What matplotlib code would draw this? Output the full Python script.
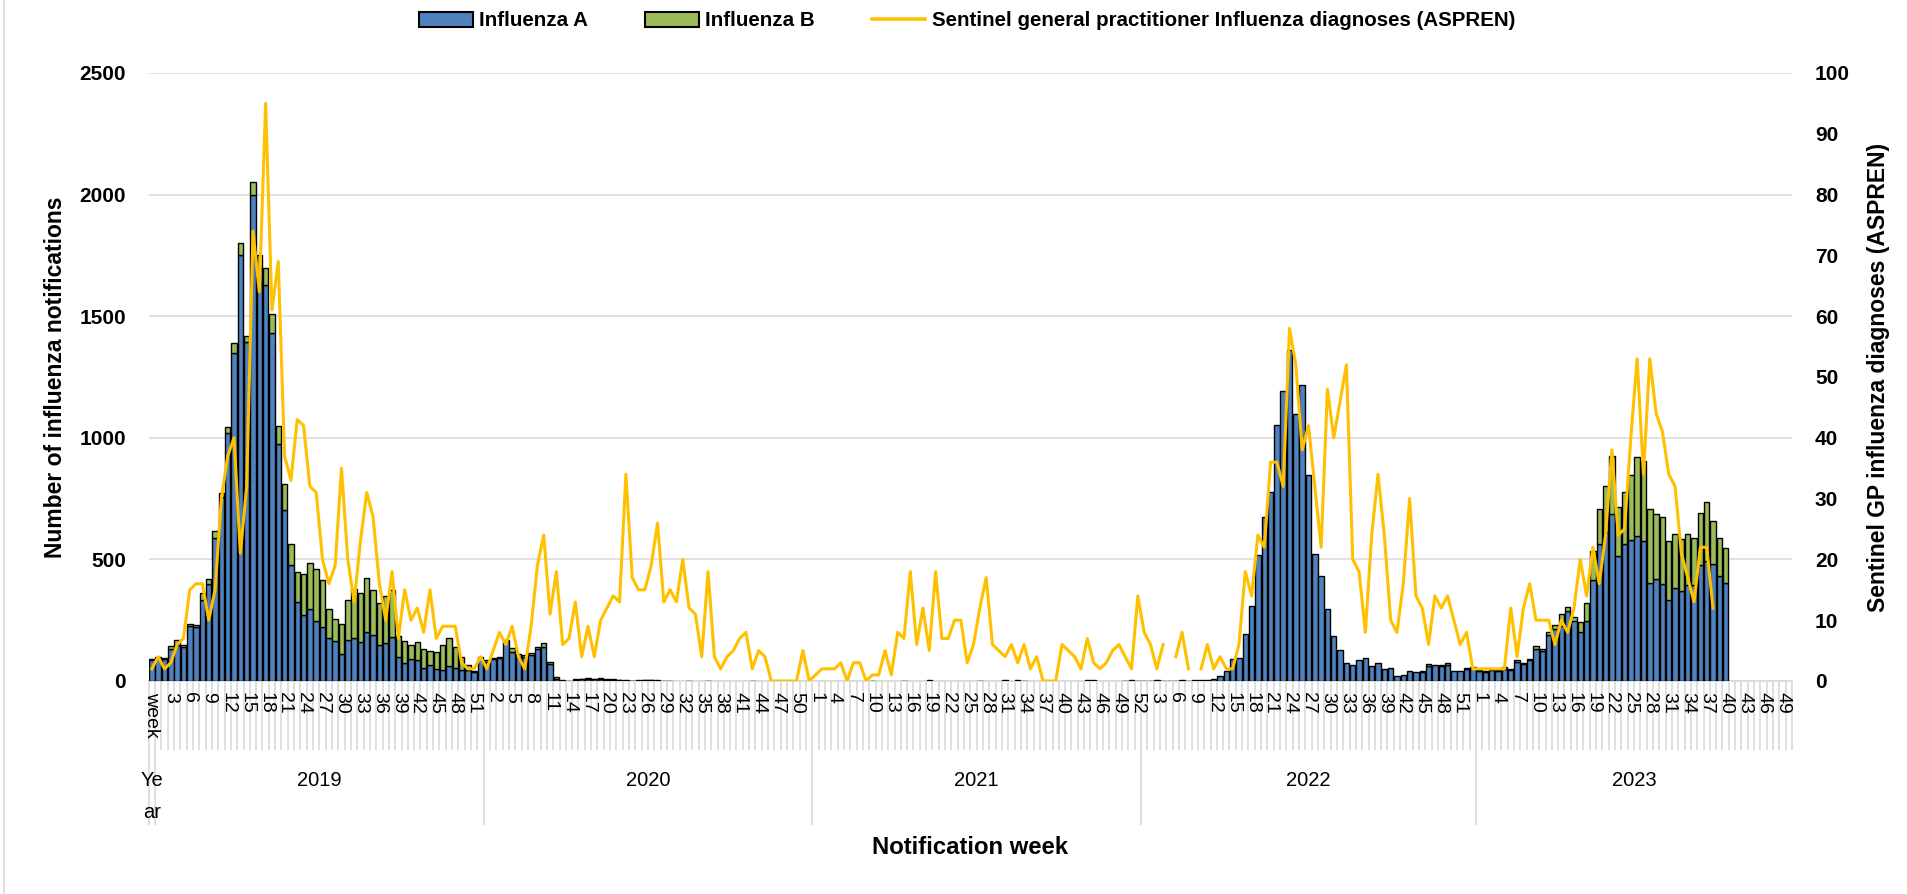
import numpy as np
import matplotlib
matplotlib.use("Agg")
import matplotlib.pyplot as plt
from matplotlib.collections import LineCollection
from matplotlib.lines import Line2D
from matplotlib.patches import Patch
from matplotlib.transforms import blended_transform_factory

nan = np.nan

# ── data (weekly notifications) ─────────────────────────────────────────────
# 2019 carries one extra leading slot: the first category sits under the
# "Year / week" header cell but still has a bar and a line point.
flu_a_2019 = [85, 95, 90, 130, 150, 140, 225, 220, 335, 400, 590, 755, 1020, 1350,
              1750, 1395, 2000, 1700, 1630, 1430, 975, 705, 475, 325, 270, 295, 245,
              220, 175, 165, 110, 170, 175, 160, 200, 190, 150, 155, 180, 100, 75, 90,
              85, 55, 65, 50, 45, 60, 55, 45, 45, 38, 95]
flu_b_2019 = [5, 5, 5, 15, 20, 10, 10, 10, 25, 20, 25, 20, 25, 40, 50, 25, 50, 50, 70,
              80, 75, 105, 90, 125, 170, 190, 215, 195, 120, 90, 125, 165, 205, 200,
              225, 185, 170, 195, 195, 85, 90, 60, 75, 75, 60, 70, 105, 115, 85, 55,
              20, 2, 5]
aspren_2019 = [2, 4, 2, 3, 6, 7, 15, 16, 16, 10, 15, 30, 37, 40, 21, 32, 74, 64, 95, 61,
               69, 37, 33, 43, 42, 32, 31, 20, 16, 19, 35, 20, 13, 23, 31, 27, 16, 10,
               18, 7, 15, 10, 12, 8, 15, 7, 9, 9, 9, 3, 2, 2, 4]

flu_a_2020 = [80, 90, 95, 165, 120, 100, 100, 105, 130, 140, 70, 10, 2, 2, 6, 8, 10, 8,
              10, 6, 6, 4, 2, 1, 2, 5, 4, 3, 1, 1, 0, 0, 1, 0, 0, 1, 0, 0, 0, 0, 0, 0,
              1, 0, 0, 0, 0, 0, 0, 0, 0, 0]
flu_b_2020 = [5, 5, 5, 5, 15, 10, 5, 10, 10, 15, 10, 5, 1, 0, 2, 2, 2, 2, 2, 2, 2, 1, 1,
              1, 1, 1, 1, 0, 0, 0, 0, 0, 0, 0, 0, 0, 0, 0, 0, 0, 0, 0, 0, 0, 0, 0, 0, 0,
              0, 0, 0, 0]
aspren_2020 = [2, 5, 8, 6, 9, 4, 2, 9, 19, 24, 11, 18, 6, 7, 13, 4, 9, 4, 10, 12, 14, 13,
               34, 17, 15, 15, 19, 26, 13, 15, 13, 20, 12, 11, 4, 18, 4, 2, 4, 5, 7, 8,
               2, 5, 4, 0, 0, 0, 0, 0, 5, 0]

flu_a_2021 = [0, 0, 0, 0, 0, 0, 0, 0, 0, 1, 0, 0, 0, 0, 2, 0, 0, 0, 3, 0, 0, 0, 0, 0, 0,
              0, 2, 0, 0, 0, 3, 0, 3, 2, 0, 0, 0, 0, 0, 0, 0, 0, 0, 3, 3, 0, 0, 0, 0, 2,
              3, 2]
flu_b_2021 = [0, 0, 0, 0, 0, 0, 0, 0, 0, 0, 0, 0, 0, 0, 0, 0, 0, 0, 0, 0, 0, 0, 0, 0, 0,
              0, 0, 0, 0, 0, 0, 0, 0, 0, 0, 0, 0, 0, 0, 0, 0, 0, 0, 0, 0, 0, 0, 0, 0, 0,
              0, 0]
aspren_2021 = [1, 2, 2, 2, 3, 0, 3, 3, 0, 1, 1, 5, 1, 8, 7, 18, 6, 12, 5, 18, 7, 7, 10,
               10, 3, 6, 12, 17, 6, 5, 4, 6, 3, 6, 2, 4, 0, 0, 0, 6, 5, 4, 2, 7, 3, 2, 3,
               5, 6, 4, 2, 14]

flu_a_2022 = [2, 1, 3, 2, 2, 1, 3, 2, 4, 5, 6, 10, 22, 40, 92, 95, 195, 308, 519, 675,
              778, 1052, 1194, 1361, 1099, 1216, 848, 524, 433, 294, 185, 126, 74, 66,
              87, 95, 61, 73, 48, 52, 22, 26, 40, 35, 37, 63, 66, 62, 66, 43, 43, 49, 53]
flu_b_2022 = [0, 0, 0, 0, 0, 0, 0, 0, 0, 0, 0, 0, 0, 0, 0, 0, 0, 0, 0, 0, 0, 0, 0, 0, 0,
              0, 0, 0, 0, 0, 0, 0, 0, 0, 0, 0, 0, 0, 0, 0, 0, 0, 0, 0, 3, 6, 0, 4, 8, 0,
              0, 3, 4]
aspren_2022 = [8, 6, 2, 6, nan, 4, 8, 2, nan, 2, 6, 2, 4, 2, 2, 6, 18, 14, 24, 22, 36, 36,
               32, 58, 52, 38, 42, 32, 22, 48, 40, 46, 52, 20, 18, 8, 24, 34, 24, 10, 8,
               16, 30, 14, 12, 6, 14, 12, 14, 10, 6, 8, 2]

flu_a_2023 = [42, 38, 47, 42, 50, 47, 78, 70, 85, 130, 125, 190, 215, 225, 289, 247, 202,
              247, 415, 562, 614, 687, 514, 562, 580, 597, 576, 403, 419, 398, 332, 381,
              369, 394, 394, 476, 495, 480, 433, 401,
              nan, nan, nan, nan, nan, nan, nan, nan, nan, nan]
flu_b_2023 = [3, 2, 3, 3, 7, 3, 9, 5, 7, 14, 8, 12, 15, 50, 17, 18, 40, 73, 121, 147,
              187, 238, 203, 217, 268, 325, 327, 306, 269, 277, 245, 222, 215, 209, 196,
              216, 240, 177, 155, 147,
              nan, nan, nan, nan, nan, nan, nan, nan, nan, nan]
aspren_2023 = [2, 2, 2, 2, 2, 12, 4, 12, 16, 10, 10, 10, 6, 10, 8, 12, 20, 14, 22, 16, 24,
               38, 24, 25, 40, 53, 34, 53, 44, 41, 34, 32, 21, 17, 13, 22, 22, 12,
               nan, nan, nan, nan, nan, nan, nan, nan, nan, nan, nan, nan]

years = ["2019", "2020", "2021", "2022", "2023"]
weeks_in_year = [52, 52, 52, 53, 50]   # categories shown per year group

# ── theme ───────────────────────────────────────────────────────────────────
BLUE = "#4F81BD"
GREEN = "#9BBB59"
GOLD = "#FFC000"
GRID = "#D9D9D9"

plt.rcParams["font.family"] = ["Liberation Sans", "DejaVu Sans"]

W, H = 1907, 894
AX_L, AX_R, AX_T, AX_B = 148.7, 1792.0, 73.0, 681.0


def fy(px):
    return 1 - px / H


def fx(px):
    return px / W


flu_a = np.array(flu_a_2019 + flu_a_2020 + flu_a_2021 + flu_a_2022 + flu_a_2023, float)
flu_b = np.array(flu_b_2019 + flu_b_2020 + flu_b_2021 + flu_b_2022 + flu_b_2023, float)
aspren = np.array(aspren_2019 + aspren_2020 + aspren_2021 + aspren_2022 + aspren_2023, float)

week_labels = ["week"]
for n in weeks_in_year:
    week_labels += [str(w) for w in range(1, n + 1)]
n_cat = len(week_labels)
x = np.arange(n_cat)

fig = plt.figure(figsize=(W / 100, H / 100), dpi=100)
ax = fig.add_axes([fx(AX_L), fy(AX_B), fx(AX_R - AX_L), (AX_B - AX_T) / H])

# ── bars ────────────────────────────────────────────────────────────────────
a_ok = np.nan_to_num(flu_a) > 0
b_ok = np.nan_to_num(flu_b) > 0
ax.bar(x[a_ok], flu_a[a_ok], width=0.86, color=BLUE, edgecolor="black",
       linewidth=1.0, zorder=3)
ax.bar(x[b_ok], flu_b[b_ok], bottom=np.nan_to_num(flu_a)[b_ok], width=0.86,
       color=GREEN, edgecolor="black", linewidth=1.0, zorder=3)

ax.set_xlim(-0.5, n_cat - 0.5)
ax.set_ylim(0, 2500)
ax.set_yticks(range(0, 2501, 500))
ax.set_xticks([])
for side in ("top", "right", "left"):
    ax.spines[side].set_visible(False)
ax.spines["bottom"].set_color(GRID)
ax.spines["bottom"].set_linewidth(1.2)
ax.grid(axis="y", color=GRID, linewidth=1.1, zorder=0)
ax.set_axisbelow(True)
ax.tick_params(axis="y", length=0, pad=16.5, labelsize=15)
for t in ax.get_yticklabels():
    t.set_fontweight("bold")

# ── ASPREN line on the secondary axis ──────────────────────────────────────
ax2 = ax.twinx()
ax2.plot(x, aspren, color=GOLD, linewidth=2.2, zorder=4)
ax2.set_ylim(0, 100)
ax2.set_yticks(range(0, 101, 10))
for side in ("top", "right", "left", "bottom"):
    ax2.spines[side].set_visible(False)
ax2.tick_params(axis="y", length=0, pad=16.5, labelsize=15)
for t in ax2.get_yticklabels():
    t.set_fontweight("bold")

# ── two-level category axis (week / year) ──────────────────────────────────
trans = blended_transform_factory(ax.transData, fig.transFigure)
bounds = np.arange(n_cat + 1) - 0.5
ticks = LineCollection([[(b, fy(AX_B)), (b, fy(750))] for b in bounds],
                       colors=GRID, linewidths=1.2, transform=trans)
ticks.set_clip_on(False)
ax.add_collection(ticks, autolim=False)

group_edges = [-0.5, 0.5]
for n in weeks_in_year:
    group_edges.append(group_edges[-1] + n)
dividers = LineCollection([[(b, fy(750)), (b, fy(825))] for b in group_edges[:-1]],
                          colors=GRID, linewidths=1.2, transform=trans)
dividers.set_clip_on(False)
ax.add_collection(dividers, autolim=False)

for i, lab in enumerate(week_labels):
    if i % 3 != 0:
        continue
    ax.text(i, fy(692), lab, transform=trans, rotation=-90, ha="center", va="top",
            fontsize=14, color="black", clip_on=False)

for yr, lo, hi in zip(years, group_edges[1:-1], group_edges[2:]):
    ax.text((lo + hi) / 2, fy(780), yr, transform=trans, ha="center", va="center",
            fontsize=14.5, clip_on=False)
ax.text(0, fy(780), "Ye", transform=trans, ha="center", va="center", fontsize=14.5,
        clip_on=False)
ax.text(0, fy(812), "ar", transform=trans, ha="center", va="center", fontsize=14.5,
        clip_on=False)

# ── titles / legend ─────────────────────────────────────────────────────────
mid_y = fy((AX_T + AX_B) / 2)
fig.text(fx(56), mid_y, "Number of influenza notifications", rotation=90,
         ha="center", va="center", fontsize=16.5, fontweight="bold")
fig.text(fx(1878), mid_y, "Sentinel GP influenza diagnoses (ASPREN)", rotation=90,
         ha="center", va="center", fontsize=16.5, fontweight="bold")
fig.text(fx((AX_L + AX_R) / 2), fy(848), "Notification week", ha="center",
         va="center", fontsize=17.2, fontweight="bold")

handles = [
    Patch(facecolor=BLUE, edgecolor="black", linewidth=1.5, label="Influenza A"),
    Patch(facecolor=GREEN, edgecolor="black", linewidth=1.5, label="Influenza B"),
    Line2D([], [], color=GOLD, linewidth=2.6,
           label="Sentinel general practitioner Influenza diagnoses (ASPREN)"),
]
fig.legend(handles=handles, loc="center", bbox_to_anchor=(fx(967), fy(21)), ncol=3,
           frameon=False, handlelength=2.6, handleheight=0.75, handletextpad=0.3,
           columnspacing=2.8, borderpad=0.2, prop={"size": 14.8, "weight": "bold"})

fig.add_artist(Line2D([fx(4), fx(4)], [0, 1], color=GRID, linewidth=1.2))

fig.savefig("out.png", dpi=100, facecolor="white")
